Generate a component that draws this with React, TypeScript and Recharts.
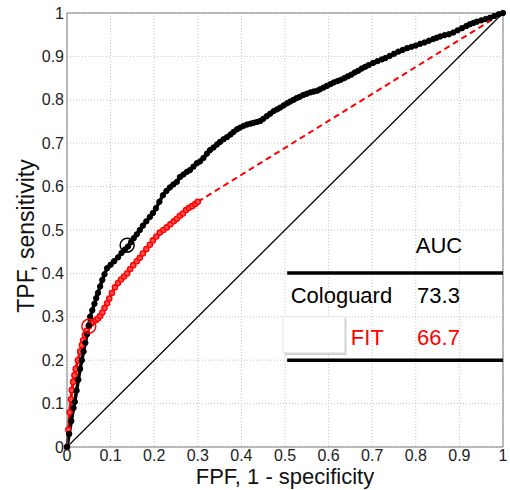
import React from "react";
import {
  ComposedChart,
  Line,
  XAxis,
  YAxis,
  CartesianGrid,
  ReferenceLine,
  ReferenceDot,
  ReferenceArea,
} from "recharts";

// ROC curve points (FPF, TPF)
const cologuardFpf = [
  0, 0.005, 0.01, 0.015, 0.018, 0.022, 0.026, 0.03, 0.034, 0.038, 0.042, 0.046, 0.05, 0.053, 0.058,
  0.063, 0.067, 0.071, 0.076, 0.081, 0.086, 0.092, 0.1, 0.108, 0.117, 0.125, 0.133, 0.14, 0.147,
  0.153, 0.16, 0.167, 0.174, 0.182, 0.19, 0.197, 0.204, 0.212, 0.22, 0.228, 0.236, 0.244, 0.252,
  0.259, 0.267, 0.275, 0.282, 0.29, 0.298, 0.305, 0.313, 0.321, 0.328, 0.336, 0.344, 0.351, 0.359,
  0.367, 0.375, 0.382, 0.39, 0.397, 0.405, 0.413, 0.421, 0.428, 0.436, 0.443, 0.45, 0.458, 0.466,
  0.474, 0.482, 0.489, 0.497, 0.505, 0.512, 0.52, 0.527, 0.534, 0.542, 0.55, 0.558, 0.566, 0.574,
  0.58, 0.588, 0.596, 0.604, 0.612, 0.62, 0.628, 0.636, 0.644, 0.652, 0.66, 0.668, 0.676, 0.684,
  0.692, 0.702, 0.712, 0.722, 0.73, 0.74, 0.75, 0.76, 0.77, 0.78, 0.79, 0.8, 0.81, 0.82, 0.83, 0.84,
  0.848, 0.856, 0.866, 0.876, 0.886, 0.896, 0.906, 0.916, 0.924, 0.932, 0.94, 0.95, 0.96, 0.97,
  0.98, 0.99, 1,
];
const cologuardTpf = [
  0, 0.03, 0.06, 0.09, 0.104, 0.13, 0.155, 0.18, 0.2, 0.22, 0.24, 0.26, 0.28, 0.3, 0.315, 0.33,
  0.343, 0.355, 0.37, 0.385, 0.398, 0.412, 0.42, 0.428, 0.437, 0.447, 0.455, 0.462, 0.472, 0.481,
  0.49, 0.5, 0.51, 0.52, 0.53, 0.539, 0.55, 0.565, 0.58, 0.59, 0.598, 0.605, 0.611, 0.622, 0.628,
  0.634, 0.638, 0.646, 0.654, 0.658, 0.666, 0.676, 0.684, 0.69, 0.697, 0.703, 0.709, 0.714, 0.72,
  0.726, 0.732, 0.736, 0.74, 0.743, 0.745, 0.747, 0.749, 0.751, 0.756, 0.762, 0.768, 0.774, 0.778,
  0.782, 0.787, 0.792, 0.796, 0.8, 0.804, 0.807, 0.811, 0.814, 0.817, 0.819, 0.821, 0.824, 0.828,
  0.832, 0.836, 0.84, 0.843, 0.846, 0.85, 0.854, 0.858, 0.863, 0.867, 0.872, 0.876, 0.88, 0.885,
  0.889, 0.893, 0.896, 0.901, 0.906, 0.911, 0.915, 0.919, 0.922, 0.925, 0.929, 0.932, 0.936, 0.94,
  0.943, 0.946, 0.949, 0.951, 0.955, 0.96, 0.965, 0.97, 0.974, 0.977, 0.98, 0.983, 0.986, 0.989,
  0.993, 0.997, 1,
];

const fitFpf = [
  0, 0.003, 0.006, 0.009, 0.011, 0.014, 0.017, 0.02, 0.025, 0.03, 0.034, 0.037, 0.041, 0.045, 0.05,
  0.055, 0.06, 0.066, 0.071, 0.076, 0.081, 0.086, 0.092, 0.097, 0.103, 0.11, 0.117, 0.124, 0.131,
  0.138, 0.145, 0.152, 0.16, 0.167, 0.174, 0.182, 0.19, 0.197, 0.205, 0.213, 0.221, 0.229, 0.237,
  0.245, 0.252, 0.259, 0.266, 0.273, 0.28, 0.287, 0.294, 0.3,
];
const fitTpf = [
  0, 0.04, 0.08, 0.11, 0.131, 0.15, 0.165, 0.18, 0.2, 0.22, 0.235, 0.246, 0.258, 0.268, 0.278,
  0.284, 0.288, 0.292, 0.296, 0.302, 0.31, 0.32, 0.331, 0.342, 0.355, 0.368, 0.378, 0.386, 0.393,
  0.4, 0.41, 0.419, 0.428, 0.436, 0.446, 0.456, 0.466, 0.476, 0.485, 0.494, 0.5, 0.506, 0.513,
  0.52, 0.526, 0.533, 0.538, 0.546, 0.551, 0.555, 0.56, 0.565,
];
// FIT tail: straight dashed segment to (1, 1)
const fitTailFpf = [0.3, 1];
const fitTailTpf = [0.565, 1];

const chanceFpf = [0, 1];
const chanceTpf = [0, 1];

// operating points marked with open circles
const cologuardPoint = { x: 0.138, y: 0.465 };
const fitPoint = { x: 0.05, y: 0.278 };

const ticks = [0, 0.1, 0.2, 0.3, 0.4, 0.5, 0.6, 0.7, 0.8, 0.9, 1];
const tickLabels = ["0", "0.1", "0.2", "0.3", "0.4", "0.5", "0.6", "0.7", "0.8", "0.9", "1"];

const aucHeader = "AUC";
const tests = ["Cologuard", "FIT"];
const aucValues = ["73.3", "66.7"];

const zip = (xs: number[], ys: number[]) => xs.map((x, i) => ({ x, y: ys[i] }));

const cologuardData = zip(cologuardFpf, cologuardTpf);
const fitData = zip(fitFpf, fitTpf);
const fitTailData = zip(fitTailFpf, fitTailTpf);
const chanceData = zip(chanceFpf, chanceTpf);

const FONT = "'Liberation Sans', Arial, Helvetica, sans-serif";
const AXIS_GREY = "#7f7f7f";

const fmt = (v: number) => tickLabels[ticks.indexOf(Math.round(v * 10) / 10)] ?? String(v);

function textLabel(value: string, color: string, size = 22) {
  return (props: any) => {
    const vb = props.viewBox || {};
    return (
      <text
        x={vb.x}
        y={vb.y}
        fill={color}
        fontSize={size}
        fontFamily={FONT}
        dominantBaseline="central"
        textAnchor="start"
      >
        {value}
      </text>
    );
  };
}

const xAxisTitle = (props: any) => {
  const vb = props.viewBox || {};
  return (
    <text
      x={vb.x + vb.width / 2}
      y={484}
      textAnchor="middle"
      fontSize={22}
      fontFamily={FONT}
      fill="#111"
    >
      FPF, 1 - specificity
    </text>
  );
};

const yAxisTitle = () => (
  <text
    x={34}
    y={236}
    transform="rotate(-90 34 236)"
    textAnchor="middle"
    fontSize={23}
    fontFamily={FONT}
    fill="#111"
  >
    TPF, sensitivity
  </text>
);

export default function App() {
  return (
    <div style={{ position: "absolute", left: 0, top: 0, width: 510, height: 490, background: "#fff" }}>
      <ComposedChart
        width={510}
        height={490}
        margin={{ top: 13, right: 7, bottom: 0, left: 0 }}
        style={{ fontFamily: FONT }}
      >
        <CartesianGrid stroke="#c4c4c4" strokeDasharray="1 2" horizontal vertical />
        <XAxis
          type="number"
          dataKey="x"
          domain={[0, 1]}
          ticks={ticks}
          tickFormatter={fmt}
          height={43}
          axisLine={{ stroke: AXIS_GREY }}
          tickLine={false}
          tickSize={0}
          tickMargin={3}
          tick={{ fill: "#222", fontSize: 16 }}
          label={{ content: xAxisTitle }}
        />
        <YAxis
          type="number"
          dataKey="y"
          domain={[0, 1]}
          ticks={ticks}
          tickFormatter={fmt}
          width={67}
          axisLine={{ stroke: AXIS_GREY }}
          tickLine={false}
          tickSize={0}
          tickMargin={3}
          tick={{ fill: "#222", fontSize: 16 }}
          label={{ content: yAxisTitle }}
        />
        <ReferenceLine y={1} stroke={AXIS_GREY} />
        <ReferenceLine x={1} stroke={AXIS_GREY} />

        <ReferenceArea x1={0.499} x2={0.641} y1={0.212} y2={0.296} fill="#d0d0d0" fillOpacity={1} stroke="none" />
        <ReferenceArea x1={0.495} x2={0.637} y1={0.217} y2={0.3} fill="#ffffff" fillOpacity={1} stroke="#e6e6e6" />

        <Line
          data={chanceData}
          dataKey="y"
          stroke="#000"
          strokeWidth={1.2}
          dot={false}
          isAnimationActive={false}
        />
        <Line
          data={fitTailData}
          dataKey="y"
          stroke="#ff0000"
          strokeWidth={2}
          strokeDasharray="6 4"
          dot={false}
          isAnimationActive={false}
        />
        <Line
          data={fitData}
          dataKey="y"
          stroke="#ff0000"
          strokeWidth={3}
          dot={{ r: 2.6, stroke: "#ff0000", strokeWidth: 1.4, fill: "#ff5050" }}
          isAnimationActive={false}
        />
        <Line
          data={cologuardData}
          dataKey="y"
          stroke="#000"
          strokeWidth={3.5}
          dot={{ r: 2.7, stroke: "#000", strokeWidth: 1, fill: "#000" }}
          isAnimationActive={false}
        />

        <ReferenceDot x={cologuardPoint.x} y={cologuardPoint.y} r={7} fill="none" stroke="#000" strokeWidth={1.5} />
        <ReferenceDot x={fitPoint.x} y={fitPoint.y} r={7} fill="none" stroke="#ff0000" strokeWidth={1.5} />

        <ReferenceLine
          segment={[{ x: 0.505, y: 0.401 }, { x: 1, y: 0.401 }]}
          stroke="#000"
          strokeWidth={3.5}
        />
        <ReferenceLine
          segment={[{ x: 0.505, y: 0.2 }, { x: 1, y: 0.2 }]}
          stroke="#000"
          strokeWidth={3.5}
        />

        <ReferenceDot x={0.8} y={0.465} r={0} fill="none" stroke="none" label={textLabel(aucHeader, "#000")} />
        <ReferenceDot x={0.513} y={0.35} r={0} fill="none" stroke="none" label={textLabel(tests[0], "#000")} />
        <ReferenceDot x={0.803} y={0.35} r={0} fill="none" stroke="none" label={textLabel(aucValues[0], "#000")} />
        <ReferenceDot x={0.651} y={0.253} r={0} fill="none" stroke="none" label={textLabel(tests[1], "#ff0000")} />
        <ReferenceDot x={0.803} y={0.253} r={0} fill="none" stroke="none" label={textLabel(aucValues[1], "#ff0000")} />
      </ComposedChart>
    </div>
  );
}
